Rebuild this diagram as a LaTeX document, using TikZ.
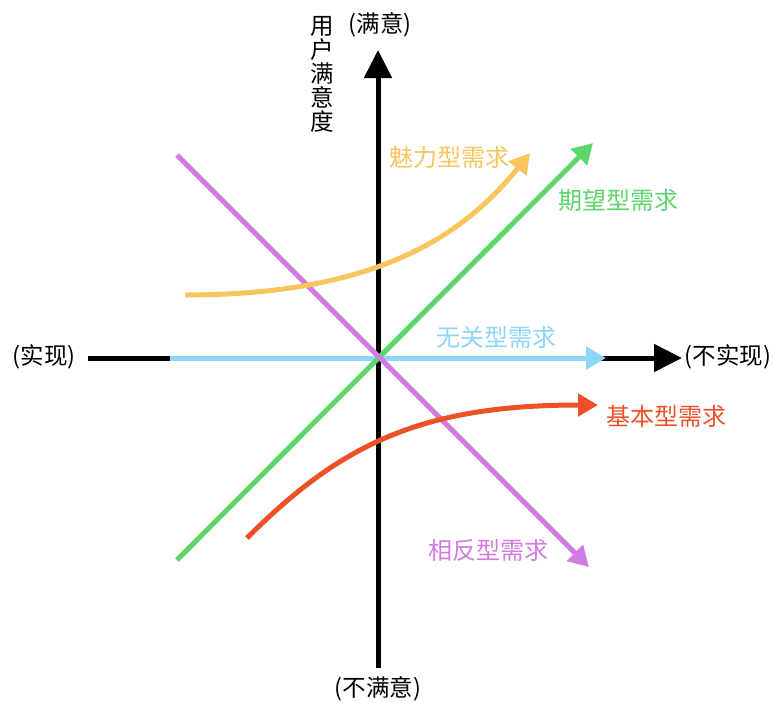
\documentclass[tikz,border=0pt]{standalone}
\usepackage{fontspec}
\setmainfont{Liberation Serif}
\newfontfamily\cjk{Noto Sans CJK SC}
\usetikzlibrary{arrows.meta}
\definecolor{cyel}{HTML}{F8C65C}
\definecolor{cgrn}{HTML}{5CD56A}
\definecolor{cpur}{HTML}{D07CE0}
\definecolor{cblu}{HTML}{8DD6F8}
\definecolor{cred}{HTML}{EE5128}
\tikzset{
  axis/.style={line width=5pt, black, -{Triangle[length=28pt,width=27pt]}},
  curve/.style={line width=5pt, -{Triangle[length=20pt,width=22pt]}},
  lbl/.style={font=\cjk\fontsize{24}{26}\selectfont, inner sep=0pt},
  axl/.style={font=\cjk\fontsize{23.5}{26}\selectfont, inner sep=0pt}
}
\begin{document}
\begin{tikzpicture}[x=1pt,y=-1pt]
\useasboundingbox (0,0) rectangle (773,702);
% axes
\coordinate (yb) at (378,668);
\coordinate (yt) at (378,50);
\coordinate (xl) at (88,358);
\coordinate (xr) at (682,358);
\draw[axis] (yb) -- (yt);
\draw[axis] (xl) -- (xr);
% blue
\coordinate (b0) at (170,358);
\coordinate (b1) at (606,358);
\draw[curve, cblu] (b0) -- (b1);
% green
\coordinate (g0) at (177,560);
\coordinate (g1) at (593,143);
\draw[curve, cgrn] (g0) -- (g1);
% purple
\coordinate (p0) at (177,155);
\coordinate (p1) at (589,567);
\draw[curve, cpur] (p0) -- (p1);
% yellow
\coordinate (y0) at (185,295);
\coordinate (y1) at (530,153);
\draw[curve, cyel] (y0) .. controls (370,295) and (460,240) .. (y1);
% red
\coordinate (r0) at (247,538);
\coordinate (r1) at (598,405);
\draw[curve, cred] (r0) .. controls (340,445) and (420,405) .. (r1);
% labels
\node[axl, anchor=north, align=center] (ylab) at (322,16) {用\\[-2pt]户\\[-2pt]满\\[-2pt]意\\[-2pt]度};
\node[axl] (top) at (380,25) {(满意)};
\node[axl] (bot) at (378,689) {(不满意)};
\node[axl] (left) at (44,357) {(实现)};
\node[axl] (right) at (728,357) {(不实现)};
\node[lbl, text=cyel] (ly) at (449,157) {魅力型需求};
\node[lbl, text=cgrn] (lg) at (618,200) {期望型需求};
\node[lbl, text=cblu] (lb) at (496,337) {无关型需求};
\node[lbl, text=cred] (lr) at (666,416) {基本型需求};
\node[lbl, text=cpur] (lp) at (488,550) {相反型需求};
\end{tikzpicture}
\end{document}
